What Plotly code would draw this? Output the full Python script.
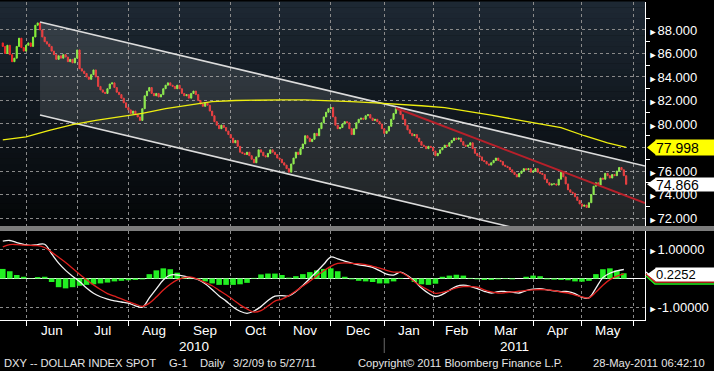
import numpy as np
import pandas as pd
import plotly.graph_objects as go

# ---------------- data ----------------
start_date = "2010-05-18"          # first visible daily bar
first_open = 86.9
close = [
    86.6, 86.0, 86.7, 85.9, 85.3, 85.6, 86.6, 87.3, 86.5, 86.2,
    86.7, 86.9, 86.6, 87.4, 88.4, 88.6, 88.0, 87.4, 87.0, 86.8,
    86.6, 86.2, 85.9, 85.5, 85.8, 85.6, 85.9, 85.7, 85.3, 85.5,
    85.2, 85.6, 86.3, 84.7, 84.5, 84.3, 84.0, 83.8, 84.2, 84.6,
    84.0, 83.2, 82.9, 82.7, 82.6, 83.0, 83.4, 83.5, 83.1, 82.7,
    82.5, 82.2, 81.8, 81.4, 81.2, 80.9, 81.1, 80.8, 80.6, 80.3,
    81.3, 82.4, 82.8, 83.1, 82.6, 82.4, 82.6, 82.3, 82.5, 83.0,
    83.3, 83.5, 83.3, 83.2, 83.0, 83.3, 83.0, 82.6, 82.4, 82.5,
    82.2, 82.6, 82.8, 82.5, 82.0, 81.7, 81.5, 81.8, 81.6, 81.1,
    80.7, 80.2, 79.9, 79.6, 79.9, 79.7, 79.4, 79.1, 78.8, 78.4,
    78.6, 78.1, 77.6, 77.5, 77.4, 77.6, 77.3, 77.0, 76.7, 77.2,
    77.8, 77.6, 77.3, 77.2, 77.5, 77.8, 77.6, 77.4, 77.1, 77.0,
    76.7, 76.5, 76.2, 75.9, 76.6, 77.1, 77.6, 77.4, 77.9, 78.3,
    79.0, 78.8, 78.5, 78.7, 79.2, 79.0, 79.6, 80.1, 80.6, 81.0,
    81.3, 81.4, 80.6, 79.9, 79.6, 79.7, 80.0, 80.2, 80.1, 79.6,
    79.1, 79.6, 80.1, 80.4, 80.5, 80.4, 80.7, 80.8, 80.5, 80.3,
    80.4, 80.2, 80.0, 79.6, 79.2, 79.4, 79.8, 80.4, 80.9, 81.3,
    81.2, 80.8, 80.4, 79.9, 79.5, 79.2, 79.0, 79.1, 78.8, 78.5,
    78.2, 78.1, 77.9, 78.1, 78.0, 77.7, 77.3, 77.5, 77.8, 78.0,
    78.2, 78.1, 78.4, 78.6, 78.8, 78.7, 78.8, 78.5, 78.2, 78.1,
    78.2, 78.4, 77.9, 77.5, 77.3, 77.2, 76.9, 76.8, 76.6, 76.5,
    76.7, 76.9, 77.1, 76.9, 76.8, 76.5, 76.4, 76.3, 76.1, 75.9,
    75.7, 75.5, 75.8, 76.0, 76.2, 76.1, 76.2, 75.9, 76.0, 76.2,
    75.9, 75.8, 75.7, 75.3, 75.0, 74.8, 74.9, 74.9, 74.8, 75.3,
    75.9, 75.5, 74.9, 74.4, 74.2, 74.1, 73.8, 73.5, 73.2, 73.0,
    73.1, 72.9, 73.3, 74.0, 74.7, 75.0, 74.8, 75.4, 75.3, 75.8,
    75.6, 75.4, 75.7, 75.6, 76.0, 76.3, 76.1, 75.6, 74.866,
]

ma_idx = [0, 10, 20, 30, 40, 50, 60, 70, 80, 90, 100, 110, 120, 130,
          140, 150, 160, 170, 180, 190, 200, 210, 220, 230, 240, 250, 260, 268]
ma_200 = [78.65, 78.9, 79.45, 79.95, 80.3, 80.6, 80.9, 81.3, 81.6, 81.9,
          82.0, 82.05, 82.05, 82.05, 82.0, 81.9, 81.8, 81.7, 81.55, 81.4,
          81.1, 80.75, 80.4, 80.05, 79.7, 79.0, 78.4, 78.0]

macd_idx = list(range(0, 268, 3))
macd_line = [
    1.29, 1.31, 1.24, 1.18, 1.14, 1.17, 1.18, 0.85, 0.53, 0.28,
    0.08, -0.10, -0.33, -0.51, -0.63, -0.71, -0.77, -0.81, -0.85, -0.94,
    -0.99, -0.67, -0.36, -0.05, 0.12, 0.12, 0.08, 0.02, -0.04, -0.18,
    -0.38, -0.60, -0.78, -0.98, -1.13, -1.20, -1.12, -0.97, -0.76, -0.61,
    -0.59, -0.60, -0.45, -0.24, 0.00, 0.24, 0.49, 0.74, 0.68, 0.60,
    0.53, 0.47, 0.44, 0.38, 0.27, 0.15, 0.12, 0.22, 0.10, -0.09,
    -0.33, -0.51, -0.62, -0.55, -0.41, -0.27, -0.23, -0.27, -0.35, -0.44,
    -0.50, -0.45, -0.45, -0.47, -0.50, -0.42, -0.37, -0.35, -0.39, -0.43,
    -0.45, -0.45, -0.52, -0.65, -0.67, -0.33, 0.03, 0.18, 0.26, 0.31,
]
macd_signal = [
    1.09, 1.17, 1.17, 1.15, 1.14, 1.13, 1.07, 0.91, 0.73, 0.55,
    0.35, 0.15, -0.04, -0.22, -0.38, -0.52, -0.61, -0.70, -0.80, -0.88,
    -0.96, -0.85, -0.64, -0.40, -0.20, -0.05, 0.03, 0.05, -0.03, -0.14,
    -0.25, -0.41, -0.56, -0.73, -0.91, -1.05, -1.16, -1.11, -0.95, -0.78,
    -0.71, -0.59, -0.43, -0.26, -0.09, 0.09, 0.27, 0.42, 0.52, 0.54,
    0.52, 0.51, 0.48, 0.42, 0.36, 0.28, 0.22, 0.21, 0.08, -0.11,
    -0.27, -0.40, -0.51, -0.48, -0.41, -0.32, -0.28, -0.28, -0.30, -0.39,
    -0.46, -0.50, -0.49, -0.46, -0.44, -0.41, -0.39, -0.38, -0.39, -0.42,
    -0.47, -0.50, -0.57, -0.63, -0.67, -0.47, -0.23, -0.04, 0.08, 0.16,
]
macd_hist = [
    0.33, 0.25, 0.12, 0.06, 0.01, 0.05, 0.06, -0.12, -0.30, -0.34,
    -0.30, -0.25, -0.22, -0.20, -0.17, -0.14, -0.10, -0.08, -0.06, -0.05,
    -0.03, 0.15, 0.28, 0.35, 0.32, 0.20, 0.05, -0.02, -0.02, -0.10,
    -0.17, -0.22, -0.22, -0.22, -0.20, -0.15, 0.02, 0.14, 0.17, 0.17,
    0.12, 0.03, 0.08, 0.15, 0.22, 0.28, 0.33, 0.35, 0.25, 0.06,
    -0.03, -0.08, -0.10, -0.12, -0.17, -0.17, -0.10, 0.02, 0.00, -0.12,
    -0.20, -0.22, -0.18, 0.06, 0.10, 0.13, 0.10, 0.02, -0.03, -0.05,
    -0.05, -0.03, -0.02, -0.03, 0.00, 0.06, 0.10, 0.08, -0.03, -0.04,
    -0.05, -0.06, -0.10, -0.11, -0.08, 0.15, 0.32, 0.35, 0.28, 0.18,
]

channel_idx = [16, 276.1]
channel_upper = [88.68, 76.43]
channel_lower = [80.77, 68.52]
trend_idx = [169, 276.1]
trend_val = [81.36, 73.28]

month_starts = ["2010-06-01", "2010-07-01", "2010-08-01", "2010-09-01", "2010-10-01",
                "2010-11-01", "2010-12-01", "2011-01-01", "2011-02-01", "2011-03-01",
                "2011-04-01", "2011-05-01", "2011-06-01"]
month_labels = ["Jun", "Jul", "Aug", "Sep", "Oct", "Nov", "Dec",
                "Jan", "Feb", "Mar", "Apr", "May"]
year_labels = ["2010", "2011"]
price_ticks = [72, 74, 76, 78, 80, 82, 84, 86, 88]
hidden_price_label = 78            # covered by the MA value box in the chart
macd_ticks = [-1, 1]
last_ma_label = 77.998
last_macd_label = 0.2252
footer_left = "DXY -- DOLLAR INDEX SPOT"
footer_g = "G-1"
footer_daily = "Daily"
footer_range = "3/2/09 to 5/27/11"
footer_copy = "Copyright\u00a9 2011 Bloomberg Finance L.P."
footer_time = "28-May-2011 06:42:10"

# ---------------- geometry helpers ----------------
W, H = 714, 371
ML, MR, MT, MB = 0, 69, 2, 51
PW, PH = W - ML - MR, H - MT - MB
X_RANGE = [-1.2, 276.1]
Y_RANGE = [71.32, 90.38]
Y2_RANGE = [-1.431, 1.638]


def px_x(px):
    return (px - ML) / PW


def px_y(py):
    return (H - MB - py) / PH


price_dom = [px_y(226), 1.0]
macd_dom = [0.0, px_y(231)]
price_ppu = (price_dom[1] - price_dom[0]) * PH / (Y_RANGE[1] - Y_RANGE[0])
macd_ppu = (macd_dom[1] - macd_dom[0]) * PH / (Y2_RANGE[1] - Y2_RANGE[0])

bar_idx = np.arange(len(close))
open_ = [first_open] + close[:-1]          # spot index opens at prior close
high = np.maximum(open_, close)
low = np.minimum(open_, close)

axis_dates = pd.bdate_range(start_date, "2011-07-01")
b_idx = axis_dates.searchsorted(pd.to_datetime(month_starts))
b_idx = [int(v) for v in b_idx]
month_mid = [(b_idx[i] + b_idx[i + 1]) / 2 for i in range(len(month_labels))]
jan_idx = b_idx[7]
year_pos = [(0 + jan_idx) / 2, (jan_idx + X_RANGE[1]) / 2]

FONT = "Liberation Sans, Arial, sans-serif"

fig = go.Figure()

# regression channel fill
fig.add_trace(go.Scatter(
    x=[channel_idx[0], channel_idx[1], channel_idx[1], channel_idx[0]],
    y=[channel_upper[0], channel_upper[1], channel_lower[1], channel_lower[0]],
    fill="toself", fillcolor="rgba(200,205,210,0.15)", mode="lines",
    line=dict(width=0), hoverinfo="skip", xaxis="x", yaxis="y"))
for arr in (channel_upper, channel_lower):
    fig.add_trace(go.Scatter(x=channel_idx, y=arr, mode="lines",
                             line=dict(color="#dcdcdc", width=1.6),
                             hoverinfo="skip", xaxis="x", yaxis="y"))

# candles
fig.add_trace(go.Candlestick(
    x=bar_idx, open=open_, high=high, low=low, close=close,
    increasing=dict(line=dict(color="#86f03a", width=1), fillcolor="#86f03a"),
    decreasing=dict(line=dict(color="#f0282a", width=1), fillcolor="#f0282a"),
    whiskerwidth=0, xaxis="x", yaxis="y", hoverinfo="skip"))

# 200d MA and trendline
fig.add_trace(go.Scatter(x=ma_idx, y=ma_200, mode="lines",
                         line=dict(color="#eeee10", width=1.3),
                         hoverinfo="skip", xaxis="x", yaxis="y"))
fig.add_trace(go.Scatter(x=trend_idx, y=trend_val, mode="lines",
                         line=dict(color="#b8202a", width=2),
                         hoverinfo="skip", xaxis="x", yaxis="y"))

# MACD panel
fig.add_trace(go.Bar(x=macd_idx, y=macd_hist, width=2.4,
                     marker=dict(color="#22f022", line=dict(width=0)),
                     hoverinfo="skip", xaxis="x", yaxis="y2"))
fig.add_trace(go.Scatter(x=macd_idx, y=macd_line, mode="lines",
                         line=dict(color="#f4f4f4", width=1.3, shape="spline"),
                         hoverinfo="skip", xaxis="x", yaxis="y2"))
fig.add_trace(go.Scatter(x=macd_idx, y=macd_signal, mode="lines",
                         line=dict(color="#e0201e", width=1.3, shape="spline"),
                         hoverinfo="skip", xaxis="x", yaxis="y2"))

shapes = []
# background gradient for price panel
n_bands = 40
top_c = np.array([30, 41, 52])
bot_c = np.array([4, 6, 8])
for i in range(n_bands):
    t = (i + 0.5) / n_bands
    c = (bot_c + (top_c - bot_c) * t).astype(int)
    shapes.append(dict(type="rect", xref="x domain", yref="y domain",
                       x0=0, x1=1, y0=i / n_bands, y1=(i + 1) / n_bands + 0.002,
                       fillcolor="rgb(%d,%d,%d)" % tuple(c), line=dict(width=0),
                       layer="below"))
# grey separator band
shapes.append(dict(type="rect", xref="paper", yref="paper",
                   x0=0, x1=px_x(W), y0=px_y(231), y1=px_y(226),
                   fillcolor="#7c7c7c", line=dict(width=0)))
# year separator
shapes.append(dict(type="line", xref="x", yref="paper", x0=jan_idx, x1=jan_idx,
                   y0=px_y(353), y1=px_y(338), line=dict(color="#6a6a6a", width=1)))


def pointer(yval, yref, ppu, color, half_px):
    h = half_px / ppu
    return dict(type="path", xref="paper", yref=yref,
                path="M %f %f L %f %f L %f %f Z" % (px_x(647), yval, px_x(656), yval + h,
                                                   px_x(656), yval - h),
                fillcolor=color, line=dict(width=0))


# leader lines at the right of MACD panel
for col, dy in (("#f4f4f4", 0), ("#e0201e", 2), ("#22f022", 4)):
    pts = [(646, 272 + dy), (655, 280 + dy), (W, 280 + dy)]
    path = "M " + " L ".join("%f %f" % (px_x(a), px_y(b)) for a, b in pts)
    shapes.append(dict(type="path", xref="paper", yref="paper", path=path,
                       line=dict(color=col, width=1.5)))

shapes.append(pointer(last_ma_label, "y", price_ppu, "#ffff00", 7.5))
shapes.append(pointer(close[-1], "y", price_ppu, "#ffffff", 6.5))
macd_box_y = last_macd_label - 2.5 / macd_ppu
shapes.append(pointer(macd_box_y, "y2", macd_ppu, "#ffffff", 6.5))

annotations = []
# value boxes
annotations.append(dict(xref="paper", yref="y", x=px_x(655), y=last_ma_label,
                        xanchor="left", yanchor="middle", text="%.3f" % last_ma_label,
                        showarrow=False, bgcolor="#ffff00", width=59, height=15,
                        align="left", borderpad=0,
                        font=dict(family=FONT, size=14, color="black")))
annotations.append(dict(xref="paper", yref="y", x=px_x(655), y=close[-1],
                        xanchor="left", yanchor="middle", text="%.3f" % close[-1],
                        showarrow=False, bgcolor="#ffffff", width=59, height=13,
                        align="left", borderpad=0,
                        font=dict(family=FONT, size=14, color="black")))
annotations.append(dict(xref="paper", yref="y2", x=px_x(655), y=macd_box_y,
                        xanchor="left", yanchor="middle", text="%.4f" % last_macd_label,
                        showarrow=False, bgcolor="#ffffff", width=59, height=13,
                        align="left", borderpad=0,
                        font=dict(family=FONT, size=13, color="black")))
# month labels
for lab, pos in zip(month_labels, month_mid):
    annotations.append(dict(xref="x", yref="paper", x=pos, y=px_y(330),
                            text=lab, showarrow=False, xanchor="center", yanchor="middle",
                            font=dict(family=FONT, size=13.5, color="white")))
for lab, pos in zip(year_labels, year_pos):
    annotations.append(dict(xref="x", yref="paper", x=pos, y=px_y(346),
                            text=lab, showarrow=False, xanchor="center", yanchor="middle",
                            font=dict(family=FONT, size=13.5, color="white")))
# footer
for txt, xp in ((footer_left, 2), (footer_g, 167), (footer_daily, 198),
                (footer_range, 231), (footer_copy, 356), (footer_time, 591)):
    annotations.append(dict(xref="paper", yref="paper", x=px_x(xp), y=px_y(363),
                            text=txt, showarrow=False, xanchor="left", yanchor="middle",
                            font=dict(family=FONT, size=11.2, color="#e6e6e6")))

tri = "<span style='font-size:9px'>\u25ba</span>"
grid = dict(gridcolor="#8a8a8a", griddash="3px,3px", gridwidth=1)
price_text = ["" if v == hidden_price_label else tri + "%.3f" % v for v in price_ticks]

fig.update_layout(
    width=W, height=H,
    margin=dict(l=ML, r=MR, t=MT, b=MB),
    paper_bgcolor="black", plot_bgcolor="black",
    showlegend=False, shapes=shapes, annotations=annotations,
    xaxis=dict(range=X_RANGE, anchor="y2", tickvals=b_idx, ticktext=[""] * len(b_idx),
               showgrid=True, ticks="outside", ticklen=5, tickcolor="white",
               showline=True, linecolor="white", linewidth=1, zeroline=False,
               rangeslider=dict(visible=False), **grid),
    yaxis=dict(domain=price_dom, range=Y_RANGE, side="right", anchor="x",
               tickvals=price_ticks, ticktext=price_text,
               ticks="", showline=True, linecolor="white", linewidth=1,
               zeroline=False, showgrid=True,
               minor=dict(dtick=2, tick0=71, ticks="outside", ticklen=4,
                          tickcolor="white", showgrid=False),
               tickfont=dict(family=FONT, size=13, color="white"), **grid),
    yaxis2=dict(domain=macd_dom, range=Y2_RANGE, side="right", anchor="x",
                tickvals=macd_ticks, ticktext=[tri + "%.5f" % v for v in macd_ticks],
                ticks="", showline=True, linecolor="white", linewidth=1,
                zeroline=True, zerolinecolor="white", zerolinewidth=1, showgrid=True,
                tickfont=dict(family=FONT, size=13, color="white"), **grid),
)

fig.write_html("out.html",
               config={"displayModeBar": False, "staticPlot": True},
               post_script="document.body.style.margin='0';"
                           "document.body.style.overflow='hidden';"
                           "document.body.style.background='black';")
